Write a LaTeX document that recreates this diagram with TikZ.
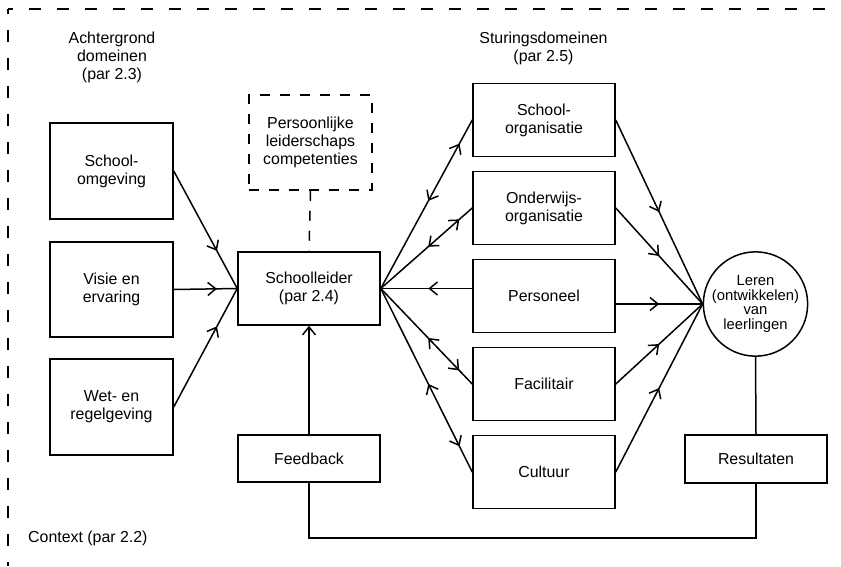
\documentclass[tikz,border=0pt]{standalone}
\usepackage{fontspec}
\setmainfont{Liberation Sans}
\usetikzlibrary{arrows.meta,decorations.markings}
\begin{document}
\begin{tikzpicture}[x=1pt,y=-1pt,
  font=\fontsize{15.9}{18}\selectfont,
  every node/.style={inner sep=0pt},
  barb/.tip={Straight Barb[length=8pt,width=13pt]},
  box/.style={draw, line width=1.5pt, minimum width=142pt, minimum height=73pt, align=center},
  link/.style={line width=1.5pt},
  framedash/.style={line width=2pt, dash pattern=on 12pt off 16pt, dash phase=7pt},
  softdash/.style={dash pattern=on 10pt off 10pt},
  fwd/.style={postaction={decorate}, decoration={markings, mark=at position #1 with {\arrow{barb}}}},
  bwd/.style={postaction={decorate}, decoration={markings, mark=at position #1 with {\arrowreversed{barb}}}},
  twoway/.style={postaction={decorate}, decoration={markings,
      mark=at position 0.52 with {\arrowreversed{barb}},
      mark=at position 0.86 with {\arrow{barb}}}},
]
\useasboundingbox (0,0) rectangle (841,566);

% context frame (open to the right and bottom)
\draw[framedash] (8,9) -- (841,9);
\draw[framedash] (8,9) -- (8,566);

% headings
\node[align=center] (achter) at (112,57) {Achtergrond\\domeinen\\(par 2.3)};
\node[align=center] (stur) at (543.5,48) {Sturingsdomeinen\\(par 2.5)};
\node[anchor=west] (ctx) at (28,538) {Context (par 2.2)};

% background domains
\node[box, minimum width=123pt, minimum height=96pt] (omg) at (111.5,171) {School-\\omgeving};
\node[box, minimum width=123pt, minimum height=95pt] (vis) at (111.5,289.5) {Visie en\\ervaring};
\node[box, minimum width=123pt, minimum height=96pt] (wet) at (111.5,407) {Wet- en\\regelgeving};

% school leader and its inputs
\node[box] (sl) at (309,288.5) {Schoolleider\\(par 2.4)};
\node[box, softdash, minimum width=123pt, minimum height=95pt] (comp) at (310.5,142.5) {Persoonlijke\\leiderschaps\\competenties};
\node[box, minimum height=47pt] (fb) at (309,458.5) {Feedback};

% steering domains
\node[box] (so) at (544,120) {School-\\organisatie};
\node[box] (oo) at (544,208) {Onderwijs-\\organisatie};
\node[box] (pe) at (544,296) {Personeel};
\node[box] (fa) at (544,384) {Facilitair};
\node[box] (cu) at (544,472) {Cultuur};

% outcome
\node[circle, draw, line width=1.5pt, minimum size=95pt, align=center,
      font=\fontsize{14.8}{14.8}\selectfont] (ll) at (755.5,304) {Leren\\(ontwikkelen)\\van\\leerlingen};
\node[box, minimum height=48pt] (res) at (756,459) {Resultaten};

% background -> school leader
\draw[link, fwd=0.68] (omg.east) -- (sl.west);
\draw[link, fwd=0.68] (vis.east) -- (sl.west);
\draw[link, fwd=0.68] (wet.east) -- (sl.west);
\draw[link, softdash] (comp.south) -- (sl.north);
\draw[link, -barb] (fb.north) -- (sl.south);

% school leader <-> steering domains
\draw[link, twoway] (sl.east) -- (so.west);
\draw[link, twoway] (sl.east) -- (oo.west);
\draw[link, bwd=0.52] (sl.east) -- (sl.east -| pe.west);
\draw[link, twoway] (sl.east) -- (fa.west);
\draw[link, twoway] (sl.east) -- (cu.west);

% steering domains -> learning
\draw[link, fwd=0.5] (so.east) -- (ll.west);
\draw[link, fwd=0.5] (oo.east) -- (ll.west);
\draw[link, fwd=0.5] (ll.west -| pe.east) -- (ll.west);
\draw[link, fwd=0.5] (fa.east) -- (ll.west);
\draw[link, fwd=0.5] (cu.east) -- (ll.west);

% results feed back
\draw[link] (ll.south) -- (res.north);
\draw[link] (res.south) -- ++(0,54) -| (fb.south);
\end{tikzpicture}
\end{document}
